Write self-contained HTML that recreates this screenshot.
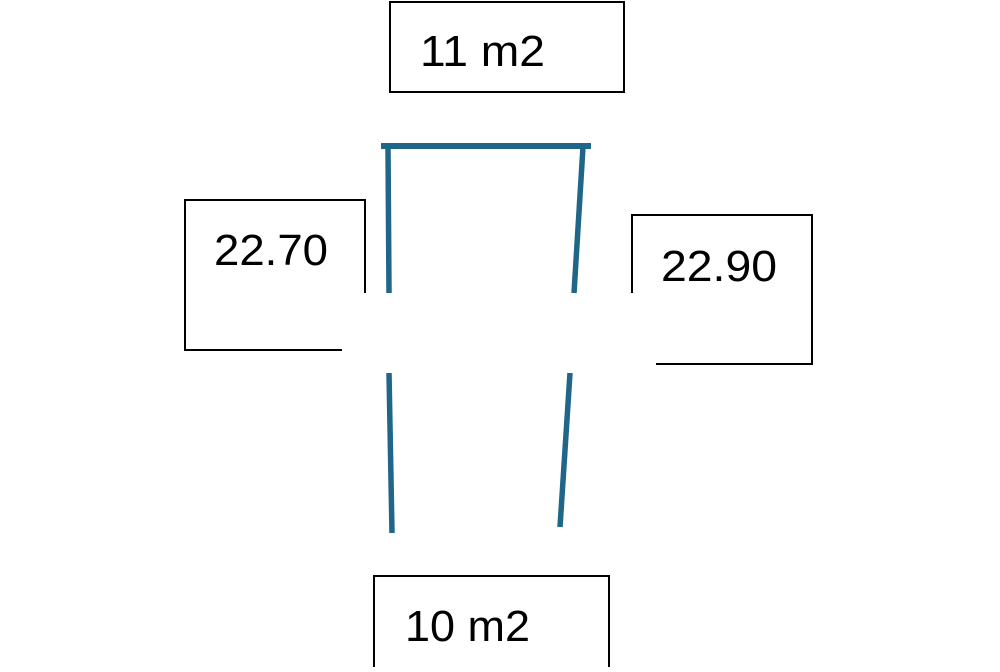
<!DOCTYPE html>
<html><head><style>body{margin:0;background:#fff}</style></head><body>
<svg width="1000" height="667" xmlns="http://www.w3.org/2000/svg" font-family="Liberation Sans, sans-serif">
<rect width="1000" height="667" fill="#fff"/>
<g fill="none" stroke="#000" stroke-width="2">
<rect x="390" y="2" width="234" height="90"/>
<rect x="374" y="576" width="235" height="92"/>
<polyline points="365,293 365,200 185,200 185,350 342,350"/>
<polyline points="632,293 632,215 812,215 812,364 656,364"/>
</g>
<g stroke="#1f6688" stroke-width="5.5" fill="none">
<line x1="381" y1="146" x2="591" y2="146" stroke-width="6"/>
<line x1="388" y1="147" x2="389" y2="293"/>
<line x1="583" y1="147" x2="574" y2="293"/>
<line x1="389" y1="373" x2="392" y2="533"/>
<line x1="570" y1="373" x2="560" y2="527"/>
</g>
<g font-size="44" fill="#000">
<text x="420" y="66" textLength="125" lengthAdjust="spacingAndGlyphs">11 m2</text>
<text x="214" y="265" textLength="114" lengthAdjust="spacingAndGlyphs">22.70</text>
<text x="661" y="281" textLength="116" lengthAdjust="spacingAndGlyphs">22.90</text>
<text x="405" y="641" textLength="125" lengthAdjust="spacingAndGlyphs">10 m2</text>
</g>
</svg>
</body></html>
